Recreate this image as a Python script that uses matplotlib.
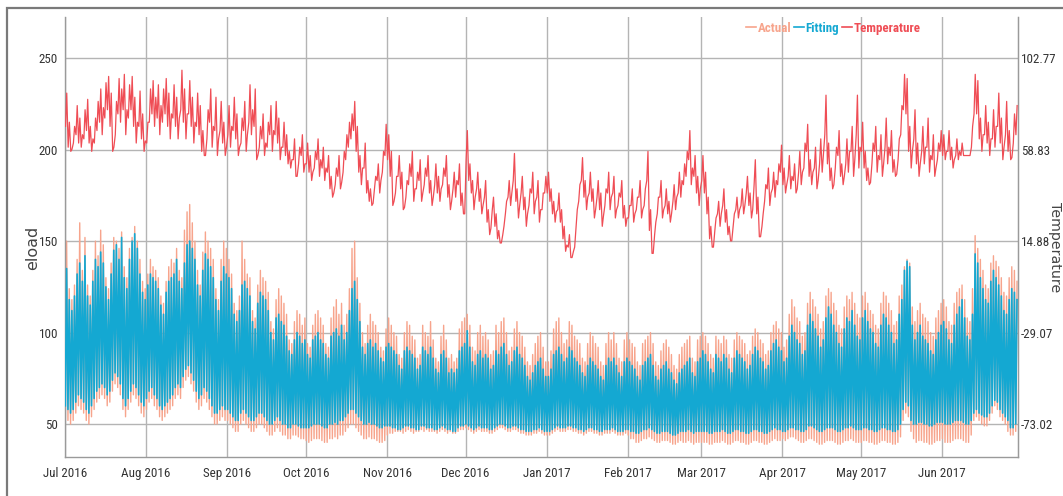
import os
import numpy as np
import pandas as pd
import matplotlib
matplotlib.use("Agg")
import matplotlib.pyplot as plt
import matplotlib.dates as mdates
from matplotlib.patches import Rectangle
from matplotlib.lines import Line2D
from matplotlib import font_manager

# ---------------- data (daily values) ----------------
# temperature: daily high and daily low
temp_jul = [86,72,59,70,80,74,66, 78,83,70,64,74,82,88, 79,91,94,86,60,82,93, 88,95,78,90,94,84,72, 87,76,63]
temp_aug = [72,88,92,84,90,80,88, 93,86,76,90,84,74,97, 88,76,92,84,72,86,80, 68,56,78,88,70,84,64, 82,72,60]
temp_sep = [80,70,84,76,60,74,82, 66,90,78,88,56,70,76, 62,72,80,68,82,74,60, 72,66,58,54,64,46,60, 66,52]
temp_oct = [62,56,48,58,64,54,60, 50,56,46,38,50,56,43, 58,66,72,76,82,70,56, 50,62,44,40,33,46,52, 44,58,71]
temp_nov = [66,58,34,46,56,48,31, 44,52,58,40,48,54,38, 50,56,44,36,52,46,40, 50,56,42,34,48,44,52, 38,28]
temp_dec = [68,52,44,36,48,40,32, 44,30,21,36,28,20,14, 22,34,44,38,57,40,32, 46,36,28,40,48,34,44, 30,38,46]
temp_jan = [48,40,34,29,38,30,22, 13,18,7,12,30,42,55, 44,36,48,40,30,44,38, 27,40,48,36,46,30,38, 44,32,26]
temp_feb = [32,40,28,36,44,30,40, 58,30,9,24,36,44,30, 40,34,28,42,36,48,44, 52,58,68,50,56,46,40]
temp_mar = [56,48,36,22,12,26,34, 28,40,30,22,15,28,36, 30,40,32,46,38,30,54, 36,17,28,42,50,38,48, 44,52,61]
temp_apr = [50,42,56,46,52,40,58, 48,62,71,54,48,60,44, 64,56,85,62,50,42,60, 68,52,46,64,58,70,54, 85,60]
temp_may = [72,58,50,43,62,70,56, 66,52,74,60,68,54,47, 64,80,95,93,70,58,78, 62,52,70,60,74,56,66, 50,62,68]
temp_jun = [66,58,68,60,54,64,58, 62,56,56,56,70,95,92, 74,66,80,72,64,78,70, 86,74,60,82,68,55,76, 80]

tlo_jul = [70,60,58,62,66,62,60, 64,68,62,58,62,68,72, 66,74,78,70,58,66,76, 72,78,66,74,78,70,62, 70,64,58]
tlo_aug = [62,72,76,70,74,66,72, 76,70,64,74,70,64,78, 72,64,76,70,62,70,66, 58,56,64,72,60,68,56, 68,62,56]
tlo_sep = [66,60,68,64,56,62,68, 58,72,66,70,54,60,64, 56,60,66,58,66,62,54, 60,56,52,50,54,46,52, 56,48]
tlo_oct = [52,48,44,50,54,46,50, 44,48,40,36,42,46,40, 48,54,60,64,68,58,48, 42,50,38,34,32,40,44, 38,48,56]
tlo_nov = [54,46,32,38,46,40,30, 36,42,46,34,40,44,34, 42,46,38,32,42,38,34, 42,46,36,30,40,36,42, 32,28]
tlo_dec = [54,44,38,30,40,34,28, 36,24,18,30,22,16,14, 18,28,36,32,44,34,26, 38,30,22,32,38,28,36, 24,30,38]
tlo_jan = [38,34,28,24,30,24,16, 10,12,7,10,22,34,44, 36,30,38,34,26,36,30, 22,32,38,30,38,26,32, 36,26,22]
tlo_feb = [26,32,24,30,36,26,32, 44,20,9,18,28,36,26, 32,28,24,34,30,38,36, 42,46,54,42,46,38,32]
tlo_mar = [44,38,28,16,12,20,28, 22,32,24,18,15,22,30, 26,32,28,38,32,26,42, 28,17,22,34,40,32,40, 36,42,48]
tlo_apr = [42,38,46,40,44,38,48, 42,50,58,46,42,50,40, 52,48,66,52,44,40,50, 56,46,42,52,48,58,46, 66,50]
tlo_may = [58,50,44,42,52,58,48, 54,46,60,52,56,48,46, 54,66,78,76,58,50,64, 52,46,58,52,60,48,54, 46,54,58]
tlo_jun = [56,54,58,54,50,56,54, 56,56,56,56,60,76,76, 64,58,66,62,56,64,60, 70,62,54,66,58,54,62, 66]

fit_hi_jul = [135,118,112,120,132,138,128, 142,120,115,128,140,136,144, 138,125,118,132,145,148,140, 152,130,124,140,150,154,146, 132,122,118]
fit_hi_aug = [126,132,130,128,124,115,110, 122,128,130,132,140,128,124, 138,148,150,146,140,126,120, 134,143,140,136,130,118,112, 128,136,132]
fit_hi_sep = [130,124,110,106,112,126,128, 124,120,106,102,116,122,120, 118,112,100,96,108,110,106, 104,98,90,88,96,100,98, 94,96]
fit_hi_oct = [88,86,96,98,100,96,94, 88,86,98,100,102,98,104, 96,100,112,124,128,118,106, 92,88,94,96,92,94,90, 86,84,92]
fit_hi_nov = [94,92,90,88,82,80,90, 92,90,88,86,80,82,92, 90,88,92,86,80,78,88, 90,86,78,80,78,80,90, 92,94]
fit_hi_dec = [101,92,84,82,88,90,86, 88,86,80,82,90,88,92, 94,88,82,84,90,92,88, 86,82,76,74,78,82,84, 86,80,76]
fit_hi_jan = [76,80,88,90,92,88,84, 86,92,90,86,84,82,78, 76,82,86,84,82,80,76, 74,82,86,84,86,82,78, 76,84,86]
fit_hi_feb = [84,82,80,76,74,82,84, 86,88,82,76,74,80,82, 84,80,78,74,72,78,80, 82,84,86,78,76,84,86]
fit_hi_mar = [90,88,84,80,78,88,86, 84,88,86,80,78,86,90, 88,86,84,80,82,88,92, 90,86,84,80,82,90,94, 96,92,90]
fit_hi_apr = [84,86,98,104,100,96,94, 88,90,104,110,106,102,98, 92,96,108,114,110,104,100, 94,92,102,108,106,112,104, 98,96]
fit_hi_may = [108,112,106,102,100,94,92, 104,110,108,104,100,94,96, 110,118,134,139,136,104,96, 100,104,98,96,94,90,88, 96,100,104]
fit_hi_jun = [106,102,96,94,104,110,114, 118,108,98,96,110,143,138, 130,124,118,116,128,134,130, 126,120,112,110,118,124,122, 118]

fit_lo_jul = [60,58,56,58,62,66,64, 62,58,56,60,64,68,70, 72,70,66,68,74,78,76, 72,64,60,64,68,72,70, 66,62,60]
fit_lo_aug = [64,68,70,66,64,60,58, 60,62,64,66,70,72,70, 76,80,82,78,74,68,64, 66,70,68,64,60,56,56, 58,60,58]
fit_lo_sep = [58,56,54,52,52,56,58, 56,54,52,52,54,56,56, 54,52,50,50,52,54,52, 50,50,48,48,50,50,49, 48,48]
fit_lo_oct = [48,48,49,50,50,50,49, 48,48,50,50,51,50,52, 52,54,56,58,58,56,54, 52,50,50,51,50,50,49, 48,48,49]
fit_lo_nov = [49,49,48,48,47,47,48, 49,49,48,48,47,47,49, 49,48,48,48,47,47,48, 49,48,47,47,46,46,48, 49,49]
fit_lo_dec = [50,49,48,47,48,49,48, 48,48,47,47,48,49,50, 50,49,48,48,49,49,48, 47,47,46,46,46,47,47, 48,47,46]
fit_lo_jan = [46,46,47,48,49,48,48, 48,49,49,48,48,47,47, 46,47,48,48,47,47,46, 46,47,47,47,48,47,46, 46,46,47]
fit_lo_feb = [47,46,46,45,45,46,47, 47,48,47,46,45,45,46, 46,46,45,44,44,45,46, 46,46,47,46,45,46,46]
fit_lo_mar = [46,46,46,45,45,46,46, 46,47,46,45,45,46,47, 47,46,46,45,45,46,47, 47,46,46,45,45,46,47, 48,47,47]
fit_lo_apr = [46,46,47,48,48,47,47, 46,46,47,49,49,48,47, 46,46,47,48,48,48,47, 46,46,47,48,48,49,48, 47,47]
fit_lo_may = [47,48,48,47,47,46,46, 47,48,48,47,47,46,46, 47,50,58,62,60,52,50, 50,51,51,50,50,49,49, 50,51,51]
fit_lo_jun = [51,50,50,50,51,52,52, 52,51,50,50,52,56,58, 56,55,54,54,56,60,63, 62,58,56,54,52,48,48, 50]

act_hi_jul = [150,124,118,126,140,160,134, 152,126,120,134,150,142,156, 148,130,124,138,152,150,146, 155,136,130,146,152,158,150, 140,128,124]
act_hi_aug = [132,140,136,134,130,120,116, 128,136,140,138,146,134,130, 156,166,170,160,150,134,126, 144,155,150,146,140,124,118, 140,150,146]
act_hi_sep = [140,132,116,112,120,150,140, 132,130,112,108,126,134,130, 128,122,106,102,118,124,120, 116,110,96,94,106,112,110, 104,108]
act_hi_oct = [94,92,104,110,112,108,104, 94,92,108,114,118,110,116, 104,110,124,146,150,130,116, 100,94,104,110,106,104,100, 92,90,102]
act_hi_nov = [108,104,100,98,88,86,100, 106,104,98,96,86,88,104, 100,98,106,96,86,84,98, 104,96,86,88,84,86,102, 106,108]
act_hi_dec = [110,104,92,90,100,104,98, 100,96,88,90,104,100,106, 108,100,90,92,102,106,100, 98,92,84,82,88,94,98, 100,92,84]
act_hi_jan = [84,90,102,106,108,100,94, 96,106,104,98,96,94,86, 84,94,100,98,94,92,84, 82,94,100,96,100,94,86, 84,96,100]
act_hi_feb = [96,94,92,84,82,94,96, 98,100,94,84,82,90,94, 96,92,88,82,80,88,92, 94,96,98,86,84,96,98]
act_hi_mar = [100,98,94,88,86,98,96, 94,98,96,88,86,96,100, 98,96,94,88,90,98,102, 100,96,94,88,90,100,104, 106,102,100]
act_hi_apr = [92,96,110,118,114,108,106, 98,100,116,122,118,114,110, 102,106,120,124,122,116,112, 104,102,114,120,118,122,116, 110,108]
act_hi_may = [120,122,116,112,110,104,102, 116,122,120,116,112,104,106, 120,126,136,140,138,114,106, 112,116,110,108,106,100,98, 108,112,116]
act_hi_jun = [118,114,106,104,116,122,124, 126,118,108,106,124,153,146, 140,134,126,124,138,142,139, 136,130,122,120,130,136,134, 128]

act_lo_jul = [54,52,50,52,56,60,58, 56,52,50,54,58,62,64, 66,64,60,62,68,72,70, 66,58,54,58,62,66,64, 60,56,54]
act_lo_aug = [58,62,64,60,58,54,52, 54,56,58,60,64,66,64, 70,74,76,72,68,62,58, 60,64,62,58,54,50,50, 52,54,52]
act_lo_sep = [52,50,48,46,46,50,52, 50,48,46,46,48,50,50, 48,46,44,44,46,48,46, 44,44,42,42,44,44,43, 42,42]
act_lo_oct = [41,40,41,42,42,42,41, 40,40,42,42,43,42,44, 44,46,48,50,50,48,46, 44,42,42,43,42,42,41, 40,40,41]
act_lo_nov = [44,45,45,46,46,46,45, 46,47,46,45,46,46,47, 46,47,46,46,46,45,46, 47,46,45,46,45,45,46, 47,47]
act_lo_dec = [48,47,46,45,46,47,46, 46,46,45,45,46,47,48, 48,47,46,46,47,47,46, 45,45,44,44,44,45,45, 46,45,44]
act_lo_jan = [44,44,45,46,47,46,46, 46,47,47,46,46,45,45, 44,45,46,46,45,45,44, 44,45,45,45,46,45,44, 44,44,45]
act_lo_feb = [44,42,42,40,40,41,42, 42,43,42,41,40,40,41, 41,41,40,39,39,40,41, 40,40,41,40,39,40,40]
act_lo_mar = [40,40,40,39,39,40,40, 40,41,40,39,39,40,41, 41,40,40,39,39,40,41, 41,40,40,39,39,40,41, 42,41,41]
act_lo_apr = [42,41,42,43,43,42,41, 40,40,41,42,42,41,40, 39,39,40,41,41,41,40, 39,39,40,41,41,42,41, 40,40]
act_lo_may = [40,41,41,40,40,39,39, 40,41,41,40,40,39,39, 40,43,52,56,54,46,42, 40,41,41,40,40,39,39, 40,41,41]
act_lo_jun = [42,40,40,40,41,42,42, 42,41,40,40,44,52,54, 52,50,49,49,52,56,60, 58,54,52,50,46,44,44, 46]

left_ticks = [50, 100, 150, 200, 250]
right_ticks = [102.77, 58.83, 14.88, -29.07, -73.02]
right_tick_labels = ["102.77", "58.83", "14.88", "-29.07", "-73.02"]
series_labels = ["Actual", "Fitting", "Temperature"]

def cat(*parts):
    out = []
    for p in parts:
        out += p
    return np.array(out, dtype=float)

t_hi_all = cat(temp_jul, temp_aug, temp_sep, temp_oct, temp_nov, temp_dec,
               temp_jan, temp_feb, temp_mar, temp_apr, temp_may, temp_jun)
t_lo_all = cat(tlo_jul, tlo_aug, tlo_sep, tlo_oct, tlo_nov, tlo_dec,
               tlo_jan, tlo_feb, tlo_mar, tlo_apr, tlo_may, tlo_jun)
fit_hi = cat(fit_hi_jul, fit_hi_aug, fit_hi_sep, fit_hi_oct, fit_hi_nov, fit_hi_dec,
             fit_hi_jan, fit_hi_feb, fit_hi_mar, fit_hi_apr, fit_hi_may, fit_hi_jun)
fit_lo = cat(fit_lo_jul, fit_lo_aug, fit_lo_sep, fit_lo_oct, fit_lo_nov, fit_lo_dec,
             fit_lo_jan, fit_lo_feb, fit_lo_mar, fit_lo_apr, fit_lo_may, fit_lo_jun)
act_hi = cat(act_hi_jul, act_hi_aug, act_hi_sep, act_hi_oct, act_hi_nov, act_hi_dec,
             act_hi_jan, act_hi_feb, act_hi_mar, act_hi_apr, act_hi_may, act_hi_jun)
act_lo = cat(act_lo_jul, act_lo_aug, act_lo_sep, act_lo_oct, act_lo_nov, act_lo_dec,
             act_lo_jan, act_lo_feb, act_lo_mar, act_lo_apr, act_lo_may, act_lo_jun)

n = min(len(t_hi_all), len(t_lo_all), len(fit_hi), len(fit_lo), len(act_hi), len(act_lo))
days = pd.date_range("2016-07-01", periods=n, freq="D")

def zig_times(h1, h2):
    t = np.empty(2 * n, dtype="datetime64[ns]")
    t[0::2] = (days + pd.Timedelta(hours=h1)).values
    t[1::2] = (days + pd.Timedelta(hours=h2)).values
    return t

def zig(lo, hi):
    z = np.empty(2 * n)
    z[0::2] = lo[:n]
    z[1::2] = hi[:n]
    return z

load_times = zig_times(3, 15)
actual = zig(act_lo, act_hi)
fitting = zig(fit_lo, fit_hi)
temp_times = zig_times(5, 16)
temperature = zig(t_lo_all, t_hi_all)

# ---------------- fonts ----------------
def find_narrow(bold=False):
    prefs = ["LiberationSansNarrow", "RobotoCondensed", "NotoSans-Condensed",
             "NotoSansDisplay-Condensed", "OpenSansCondensed", "OpenSans-Condensed",
             "DejaVuSansCondensed"]
    files = [f.fname for f in font_manager.fontManager.ttflist]
    for p in prefs:
        for f in files:
            b = os.path.basename(f).replace(" ", "").replace("_", "")
            if not b.lower().startswith(p.lower()):
                continue
            low = b.lower()
            if "italic" in low or "oblique" in low:
                continue
            rest = low[len(p):]
            if bold:
                if "bold" in rest and "semi" not in rest and "extra" not in rest:
                    return f
            else:
                if "bold" not in rest and "light" not in rest and "medium" not in rest \
                        and "thin" not in rest and "black" not in rest and "semi" not in rest:
                    return f
    return None

f_reg = find_narrow(False)
f_bold = find_narrow(True)

def fp(size, bold=False):
    f = f_bold if bold else f_reg
    if f is not None:
        return font_manager.FontProperties(fname=f, size=size)
    return font_manager.FontProperties(family="Lato", size=size * 0.92,
                                       weight="bold" if bold else "normal")

# ---------------- figure ----------------
W, H = 1063, 496
fig = plt.figure(figsize=(W / 100, H / 100), dpi=100)
fig.patch.set_facecolor("white")
ax = fig.add_axes([65 / W, 1 - 457 / H, (1018 - 65) / W, (457 - 17) / H])

fig.patches.append(Rectangle((7 / W, -0.2), 1.5, 1.2 - 8 / H,
                             transform=fig.transFigure, fill=False,
                             edgecolor="#7a7a7a", linewidth=1.6))

c_act = "#f7a48c"
c_fit = "#14a8d2"
c_tmp = "#ef4d55"

ax.plot(load_times, actual, color=c_act, lw=1.0, zorder=2)
ax.plot(load_times, fitting, color=c_fit, lw=1.2, zorder=3)

L0, L1 = 32.0, 272.5
ax.set_ylim(L0, L1)
ax.set_xlim(pd.Timestamp("2016-07-01"), pd.Timestamp("2017-06-30"))
ax.set_yticks(left_ticks)
ax.xaxis.set_major_locator(mdates.MonthLocator())
ax.xaxis.set_major_formatter(mdates.DateFormatter("%b %Y"))

ax.grid(True, color="#b4b4b4", linewidth=1.0, zorder=0)
ax.set_axisbelow(True)
ax.spines["top"].set_visible(False)
for s in ["left", "bottom", "right"]:
    ax.spines[s].set_color("#9a9a9a")
    ax.spines[s].set_linewidth(1.0)
ax.tick_params(axis="both", length=0, colors="#333333")
ax.tick_params(axis="x", pad=7)
ax.tick_params(axis="y", pad=5)
tick_fp = fp(9.4)
for lab in ax.get_xticklabels() + ax.get_yticklabels():
    lab.set_fontproperties(tick_fp)

ax.set_ylabel("eload", fontsize=11.5, color="#444444", family="DejaVu Sans")
ax.yaxis.set_label_coords(-0.026, 0.475)

ax2 = ax.twinx()
slope = (right_ticks[0] - right_ticks[1]) / (left_ticks[4] - left_ticks[3])
def to_t(L):
    return right_ticks[0] + (L - left_ticks[4]) * slope
ax2.set_ylim(to_t(L0), to_t(L1))
ax2.plot(temp_times, temperature, color=c_tmp, lw=0.9, zorder=4)
ax2.set_yticks(right_ticks)
ax2.set_yticklabels(right_tick_labels)
ax2.tick_params(axis="y", length=0, colors="#333333", pad=2)
for lab in ax2.get_yticklabels():
    lab.set_fontproperties(tick_fp)
for s in ["top", "left", "bottom"]:
    ax2.spines[s].set_visible(False)
ax2.spines["right"].set_color("#9a9a9a")
ax2.set_ylabel("Temperature", rotation=270, fontsize=10.2, color="#444444",
               family="DejaVu Sans", va="center")
ax2.yaxis.set_label_coords(1.039, 0.477)

handles = [Line2D([0], [0], color=c, lw=1.2) for c in (c_act, c_fit, c_tmp)]
leg = ax.legend(handles, series_labels, loc="center", bbox_to_anchor=(0.806, 0.974),
                ncol=3, frameon=False, handlelength=0.8, handletextpad=0.1,
                columnspacing=0.2, labelcolor="linecolor", prop=fp(9.4, bold=True))
leg.set_zorder(10)

fig.savefig("out.png", dpi=100, facecolor="white")
